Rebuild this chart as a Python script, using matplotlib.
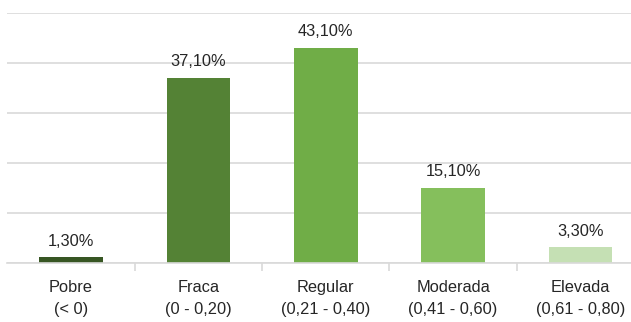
import matplotlib.pyplot as plt
import numpy as np

categorias = ['Pobre\n(< 0)', 'Fraca\n(0 - 0,20)', 'Regular\n(0,21 - 0,40)',
              'Moderada\n(0,41 - 0,60)', 'Elevada\n(0,61 - 0,80)']
valores = [1.3, 37.1, 43.1, 15.1, 3.3]
rotulos = ['1,30%', '37,10%', '43,10%', '15,10%', '3,30%']
cores = ['#375623', '#548235', '#70ad47', '#85bf5c', '#c5e0b4']

plt.rcParams['font.family'] = ['Liberation Sans Narrow', 'Liberation Sans', 'DejaVu Sans']

fig = plt.figure(figsize=(6.31, 3.22), dpi=100)
# axes runs past the right edge, like the cropped original
ax = fig.add_axes([7.4 / 631, (322 - 263) / 322, (644 - 7.4) / 631, 250 / 322])

x = np.arange(len(valores))
ax.bar(x, valores, width=0.5, color=cores, zorder=2)

for xi, v, r in zip(x, valores, rotulos):
    ax.text(xi, v + 1.6, r, ha='center', va='bottom', fontsize=11.8, color='#262626')

ax.set_xlim(-0.5, 4.5)
ax.set_ylim(0, 50)
ax.set_yticks(np.arange(0, 51, 10))
ax.yaxis.grid(True, color='#d9d9d9', linewidth=1.2, zorder=0)
ax.tick_params(axis='y', left=False, labelleft=False)

ax.set_xticks(x)
ax.set_xticklabels(categorias, fontsize=11.8, color='#262626', linespacing=1.65)
ax.tick_params(axis='x', length=0, pad=12)
ax.set_xticks(np.arange(0.5, 4.5, 1), minor=True)
ax.tick_params(axis='x', which='minor', length=6, color='#d9d9d9', width=1.2)

for s in ['top', 'right', 'left']:
    ax.spines[s].set_visible(False)
ax.spines['bottom'].set_color('#d9d9d9')
ax.spines['bottom'].set_linewidth(1.2)

fig.savefig('out.png', dpi=100)
